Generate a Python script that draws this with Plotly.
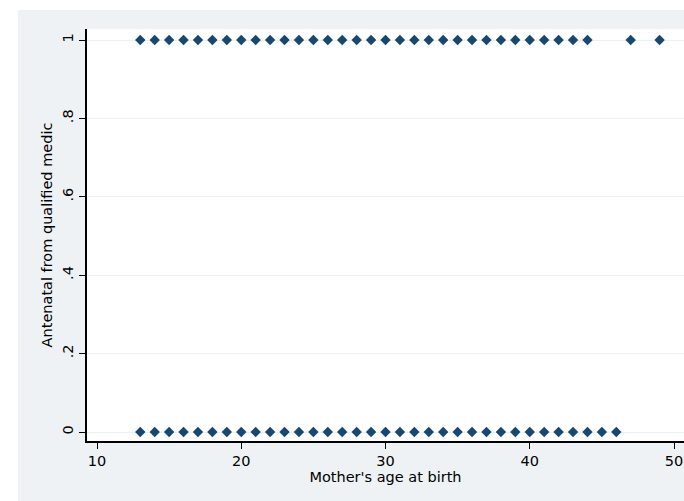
import plotly.graph_objects as go

# Data
ages_with_care = list(range(13, 45)) + [47, 49]
care_yes = [1] * len(ages_with_care)
ages_without_care = list(range(13, 47))
care_no = [0] * len(ages_without_care)

x_ticks = [10, 20, 30, 40, 50]
y_ticks = [0, 0.2, 0.4, 0.6, 0.8, 1]
y_tick_labels = ["0", ".2", ".4", ".6", ".8", "1"]

W, H = 684, 501
ml, mr, mt, mb = 87, 0, 29, 60
pw, ph = W - ml - mr, H - mt - mb

def px_to_paper_x(px):
    return (px - ml) / pw

def px_to_paper_y(py):
    return (H - mb - py) / ph

marker = dict(symbol="diamond", size=8, color="#1a476f", line=dict(width=0))

fig = go.Figure()
fig.add_trace(go.Scatter(x=ages_with_care, y=care_yes, mode="markers", marker=marker, showlegend=False))
fig.add_trace(go.Scatter(x=ages_without_care, y=care_no, mode="markers", marker=marker, showlegend=False))

font = dict(family="DejaVu Sans, sans-serif", size=14.5, color="black")

fig.update_layout(
    width=W, height=H,
    margin=dict(l=ml, r=mr, t=mt, b=mb, pad=0),
    paper_bgcolor="white",
    plot_bgcolor="white",
    font=font,
    shapes=[
        dict(type="rect", xref="paper", yref="paper", layer="below",
             x0=px_to_paper_x(18), x1=px_to_paper_x(W + 10),
             y0=px_to_paper_y(H + 10), y1=px_to_paper_y(10),
             fillcolor="#eef2f5", line=dict(width=0)),
        dict(type="rect", xref="paper", yref="paper", layer="below",
             x0=0, x1=1.02, y0=0, y1=1,
             fillcolor="white", line=dict(width=0)),
    ],
    xaxis=dict(
        range=[10 + (87 - 97) / 14.425, 10 + (684 - 97) / 14.425],
        tickvals=x_ticks,
        ticks="outside", ticklen=6, tickcolor="black", tickwidth=1,
        showline=True, linecolor="black", linewidth=1.5,
        showgrid=False, zeroline=False,
        title=dict(text="Mother's age at birth", standoff=2, font=font),
        tickfont=font,
    ),
    yaxis=dict(
        range=[-9 / 392, 1 + 11 / 392],
        tickvals=y_ticks, ticktext=y_tick_labels,
        tickangle=-90,
        ticks="outside", ticklen=6, tickcolor="black", tickwidth=1,
        showline=True, linecolor="black", linewidth=1.5,
        showgrid=True, gridcolor="#eaf2f3", gridwidth=1,
        zeroline=False,
        title=dict(text="Antenatal from qualified medic", standoff=4, font=font),
        tickfont=font,
    ),
)

fig.write_html(
    "out.html",
    config={"displayModeBar": False},
    post_script="document.body.style.margin='0';document.body.style.overflow='hidden';",
)
